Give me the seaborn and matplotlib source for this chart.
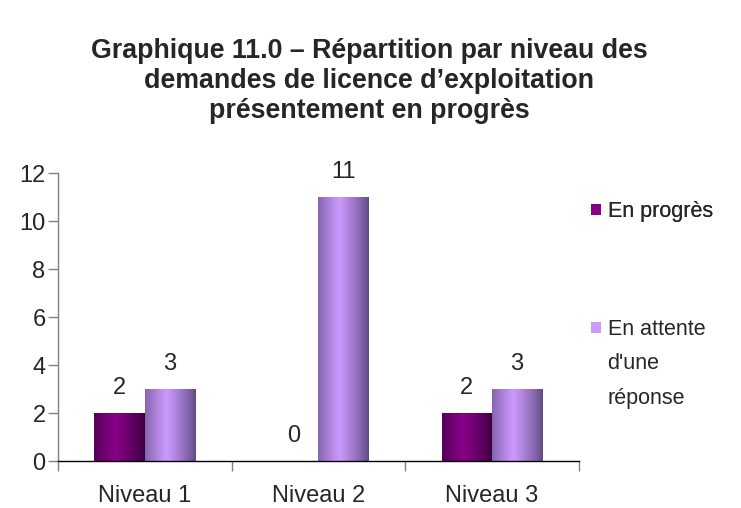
import matplotlib
matplotlib.use("Agg")
import matplotlib.pyplot as plt
import matplotlib.colors as mcolors
from matplotlib.patches import Patch
import seaborn as sns
import pandas as pd
import numpy as np

# Data
niveaux = ["Niveau 1", "Niveau 2", "Niveau 3"]
en_progres = [2, 0, 2]
en_attente = [3, 11, 3]
series = ["En progrès", "En attente d'une réponse"]
legend_lines = ["En attente", "d'une", "réponse"]
yticks = [0, 2, 4, 6, 8, 10, 12]

df = pd.DataFrame({
    "Niveau": niveaux * 2,
    "Statut": [series[0]] * 3 + [series[1]] * 3,
    "Valeur": en_progres + en_attente,
})

# edge / centre colours for the cylinder-like shading
dark_edge, dark_mid = "#3a003c", "#880088"
light_edge, light_mid = "#5e4a80", "#cc99ff"
palette = {series[0]: dark_mid, series[1]: light_mid}

sns.set_style("white")
plt.rcParams["font.family"] = ["Liberation Sans", "DejaVu Sans"]

fig = plt.figure(figsize=(7.41, 5.08), dpi=100)
ax = fig.add_axes([0.0783, 0.0925, 0.7027, 0.5665])

sns.barplot(data=df, x="Niveau", y="Valeur", hue="Statut", palette=palette,
            width=0.58, saturation=1, edgecolor="none", linewidth=0,
            legend=False, ax=ax)


def shade(edge, mid):
    # dark at the sides, bright a bit left of centre
    t = np.linspace(0, 1, 64)
    f = np.clip(1 - np.abs(t - 0.42) / 0.58, 0, 1) ** 0.8
    c0 = np.array(mcolors.to_rgb(edge))
    c1 = np.array(mcolors.to_rgb(mid))
    return (c0[None, :] + (c1 - c0)[None, :] * f[:, None])[None, :, :]


grads = [shade(dark_edge, dark_mid), shade(light_edge, light_mid)]
for cont, grad in zip(ax.containers, grads):
    for bar in cont:
        h = bar.get_height()
        if h <= 0:
            continue
        x0 = bar.get_x()
        w = bar.get_width()
        im = ax.imshow(grad, extent=[x0, x0 + w, 0, h], aspect="auto",
                       interpolation="bilinear", zorder=bar.get_zorder() + 0.1)
        im.set_clip_path(bar)
    ax.bar_label(cont, padding=10, fontsize=17)

ax.set_xlim(-0.5, 2.5)
ax.set_ylim(0, 12)
ax.set_yticks(yticks)
ax.set_xlabel("")
ax.set_ylabel("")

# axis styling: left + bottom lines only
for side in ["top", "right"]:
    ax.spines[side].set_visible(False)
ax.spines["left"].set_color("#808080")
ax.spines["bottom"].set_color("black")
ax.spines["left"].set_linewidth(1)
ax.spines["bottom"].set_linewidth(1)

# x ticks at category boundaries, labels at centres
ax.set_xticks([-0.5, 0.5, 1.5, 2.5], minor=False)
ax.set_xticklabels([])
ax.set_xticks([0, 1, 2], minor=True)
ax.set_xticklabels(niveaux, minor=True, fontsize=17)
ax.tick_params(axis="x", which="major", direction="out", length=7,
               width=1, color="#808080", bottom=True)
ax.tick_params(axis="x", which="minor", length=0, pad=17)
ax.tick_params(axis="y", direction="out", length=7, width=1, color="#808080",
               left=True, labelsize=17, pad=2)

# legend: second entry wrapped over three lines, marker on the first
blank = Patch(facecolor="none", edgecolor="none")
leg_kw = dict(frameon=False, fontsize=15.5, handlelength=0.45,
              handleheight=0.45, handletextpad=0.3)
leg1 = fig.legend([Patch(facecolor=dark_mid, edgecolor="none")], [series[0]],
                  loc="center left", bbox_to_anchor=(0.772, 0.583), **leg_kw)
leg2 = fig.legend([Patch(facecolor=light_mid, edgecolor="none"), blank, blank],
                  legend_lines, loc="upper left",
                  bbox_to_anchor=(0.772, 0.41), labelspacing=0.62, **leg_kw)
fig.add_artist(leg1)

fig.text(0.498, 0.84,
         "Graphique 11.0 – Répartition par niveau des\n"
         "demandes de licence d’exploitation\n"
         "présentement en progrès",
         ha="center", va="center", fontsize=19.3, fontweight="bold",
         linespacing=1.2)

fig.savefig("out.png", dpi=100)
